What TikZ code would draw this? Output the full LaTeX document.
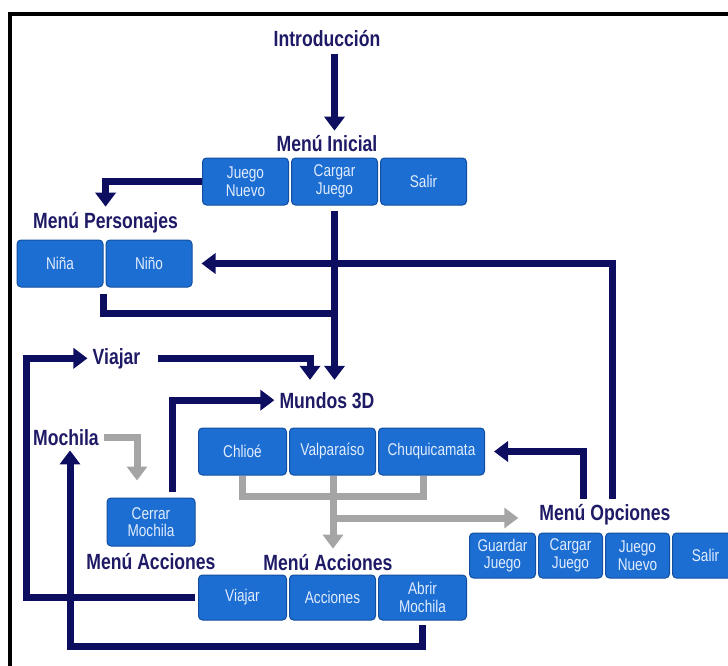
\documentclass[tikz,border=0pt]{standalone}
\usepackage{xcolor}
\usepackage{fontspec}
\setmainfont{Liberation Sans}
\newfontfamily\labelfont[FakeStretch=0.8]{Liberation Sans}
\newfontfamily\btnfont[FakeStretch=0.8]{Liberation Sans}
\usepackage{tikz}
\usetikzlibrary{arrows.meta, positioning}
\definecolor{navy}{RGB}{14,14,96}
\definecolor{labelnavy}{RGB}{30,26,102}
\definecolor{btnblue}{RGB}{28,110,210}
\definecolor{btnedge}{RGB}{18,78,160}
\definecolor{btntext}{RGB}{225,236,255}
\definecolor{flowgray}{RGB}{165,165,165}

\begin{document}
\begin{tikzpicture}[
    x=1pt, y=-1pt,
    menu/.style={text=labelnavy, font=\labelfont\bfseries\fontsize{22}{24}\selectfont, anchor=base, inner sep=5pt},
    btn/.style={rectangle, rounded corners=4pt, draw=btnedge, fill=btnblue, line width=1pt, minimum width=86pt, minimum height=47pt, inner sep=1pt, align=center, text=btntext, font=\btnfont\fontsize{17}{17.5}\selectfont},
    arrow/.style={-{Triangle[length=14pt,width=20pt]}, draw=navy, line width=7pt},
    link/.style={draw=navy, line width=7pt},
    garrow/.style={-{Triangle[length=14pt,width=20pt]}, draw=flowgray, line width=7pt},
    glink/.style={draw=flowgray, line width=7pt}
]
\useasboundingbox (0,0) rectangle (728,666);
\draw[line width=4.5pt] (10,666) -- (10,14) -- (728,14);

\node[menu] (intro) at (327,47) {Introducción};
\node[menu] (mInicial) at (327,152) {Menú Inicial};
\node[btn] (bJuegoNuevo) at (245.5,181.5) {Juego\\Nuevo};
\node[btn, right=2pt of bJuegoNuevo] (bCargar) {Cargar\\Juego};
\node[btn, right=2pt of bCargar] (bSalir) {Salir};

\node[menu, anchor=base west] (mPersonajes) at (28,228) {Menú Personajes};
\node[btn] (bNina) at (60,263.5) {Niña};
\node[btn, right=2pt of bNina] (bNino) {Niño};

\node[menu] (viajar) at (116.5,364) {Viajar};
\node[menu] (mundos) at (327,408) {Mundos 3D};
\node[menu] (mochila) at (66,445) {Mochila};
\node[btn, minimum width=88pt] (bChlioe) at (242.5,451.5) {Chlioé};
\node[btn, right=2pt of bChlioe] (bValpa) {Valparaíso};
\node[btn, minimum width=106pt, right=2pt of bValpa] (bChuqui) {Chuquicamata};

\node[btn, minimum width=88pt, minimum height=48pt] (bCerrar) at (151,522) {Cerrar\\Mochila};
\node[menu] (mAccionesL) at (151,569) {Menú Acciones};
\node[menu] (mAcciones) at (328,570) {Menú Acciones};
\node[btn, minimum width=88pt, minimum height=45pt] (bViajar) at (242.5,597.5) {Viajar};
\node[btn, minimum height=45pt, right=2pt of bViajar] (bAcciones) {Acciones};
\node[btn, minimum width=88pt, minimum height=45pt, right=2pt of bAcciones] (bAbrir) {Abrir\\Mochila};

\node[menu] (mOpciones) at (605,520) {Menú Opciones};
\node[btn, minimum width=66pt, minimum height=45pt] (oGuardar) at (502.5,555.5) {Guardar\\Juego};
\node[btn, minimum width=64pt, minimum height=45pt, right=2pt of oGuardar] (oCargar) {Cargar\\Juego};
\node[btn, minimum width=64pt, minimum height=45pt, right=2pt of oCargar] (oNuevo) {Juego\\Nuevo};
\node[btn, minimum width=66pt, minimum height=45pt, right=2pt of oNuevo] (oSalir) {Salir};

\coordinate (join) at (334,313);
\coordinate (lcol) at (26,0);
\coordinate (bot) at (0,646);
\coordinate (gjoin) at (333,496);
\coordinate (gsplit) at (333,518);

\draw[arrow, shorten <=2pt] (intro.south -| bCargar) -- (mInicial.north -| bCargar);
\draw[arrow] (bJuegoNuevo.west) -| (mPersonajes.north);
\draw[link, shorten <=6pt] (bNina.south east) |- (join);
\draw[arrow, shorten <=5pt, shorten >=7pt] (bCargar.south) -- (bCargar.south |- mundos.north);
\draw[arrow, shorten <=12pt, shorten >=7pt] (viajar.east) -| ([xshift=-17pt]mundos.north);
\draw[arrow, shorten <=3pt] (bViajar.west) -| (lcol |- viajar.west) -- (viajar.west);
\draw[arrow, shorten <=6pt] ([xshift=21pt]bCerrar.north) |- (mundos.west);
\draw[garrow, shorten >=17pt] (mochila.east) -| ([xshift=-14pt]bCerrar.north);
\draw[arrow, shorten <=4pt] (bAbrir.south) |- ([xshift=4pt]mochila.south |- bot) -- ([xshift=4pt]mochila.south);
\draw[glink] (bChlioe.south) |- (gjoin);
\draw[glink] (gjoin) -| ([xshift=-8pt]bChuqui.south);
\draw[glink] (bValpa.south -| gjoin) -- (gjoin);
\draw[garrow] (gjoin) -- (gjoin |- mAcciones.north);
\draw[garrow, shorten >=16pt] (gsplit) -- (gsplit -| mOpciones.west);
\draw[arrow, shorten >=9pt] ([xshift=-22pt]mOpciones.north) |- (bChuqui.east);
\draw[arrow, shorten >=9pt] ([xshift=7pt]mOpciones.north) |- (bNino.east);

\end{tikzpicture}
\end{document}
